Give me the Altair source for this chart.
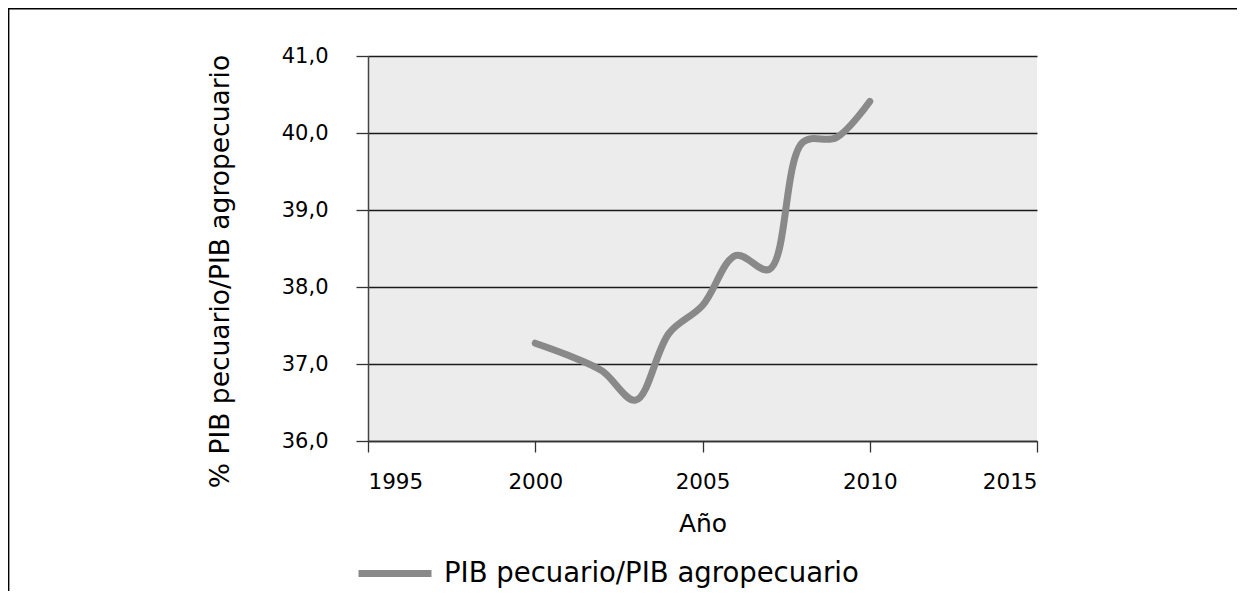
import altair as alt
import pandas as pd

years = [2000, 2001, 2002, 2003, 2004, 2005, 2006, 2007, 2008, 2009, 2010]
values = [37.27, 37.11, 36.91, 36.53, 37.40, 37.76, 38.41, 38.23, 39.88, 39.94, 40.41]
series_name = "PIB pecuario/PIB agropecuario"
x_ticks = [1995, 2000, 2005, 2010, 2015]
y_ticks = [36, 37, 38, 39, 40, 41]

df = pd.DataFrame({"Año": years, "valor": values, "serie": [series_name] * len(years)})

FONT = "DejaVu Sans"
W, H = 669, 385

line = alt.Chart(df).mark_line(
    interpolate="catmull-rom", strokeWidth=7, strokeCap="round", strokeJoin="round"
).encode(
    x=alt.X(
        "Año:Q",
        scale=alt.Scale(domain=[1995, 2015], nice=False, zero=False),
        axis=alt.Axis(
            values=x_ticks, format="d", title="Año", grid=False,
            tickSize=11, tickColor="#333333", tickWidth=1.3,
            domainColor="#333333", domainWidth=1.5,
            labelFontSize=21.5, labelPadding=19, labelColor="#000000",
            titleFontSize=25, titleFontWeight="normal", titleColor="#000000",
            titleX=W / 2, titleY=82, titleBaseline="middle", titleAlign="center",
        ),
    ),
    y=alt.Y(
        "valor:Q",
        scale=alt.Scale(domain=[36, 41], nice=False, zero=False),
        axis=alt.Axis(
            values=y_ticks, title="% PIB pecuario/PIB agropecuario",
            labelExpr="replace(format(datum.value, '.1f'), '.', ',')",
            grid=True, gridColor="#1a1a1a", gridWidth=1.3,
            tickSize=12, tickColor="#333333", tickWidth=1.3,
            domainColor="#444444", domainWidth=1.5,
            labelFontSize=21, labelPadding=28, labelColor="#000000",
            titleFontSize=26.5, titleFontWeight="normal", titleColor="#000000",
            titleX=-148, titleY=215, titleAngle=-90,
            titleBaseline="middle", titleAlign="center",
        ),
    ),
    color=alt.Color(
        "serie:N",
        scale=alt.Scale(range=["#898989"]),
        legend=alt.Legend(
            title=None, orient="none", legendX=-13, legendY=477.5, padding=0,
            symbolType="stroke", symbolSize=5329, symbolStrokeWidth=7,
            labelFontSize=27.5, labelFont=FONT, labelColor="#000000", labelOffset=9,
            labelLimit=700,
        ),
    ),
)

frame = pd.DataFrame({"k": [0]})
left_border = alt.Chart(frame).mark_rule(color="#000000", strokeWidth=1.8).encode(
    x=alt.value(-359.5), y=alt.value(-47.5), y2=alt.value(H + 160)
)
top_border = alt.Chart(frame).mark_rule(color="#000000", strokeWidth=1.8).encode(
    x=alt.value(-360), x2=alt.value(W + 220), y=alt.value(-47.5)
)

chart = alt.layer(line, left_border, top_border).properties(
    width=W, height=H,
    padding={"left": 360, "top": 48, "right": 200, "bottom": 150},
    autosize=alt.AutoSizeParams(type="none"),
).configure(font=FONT).configure_view(stroke=None, fill="#EBECEB")

chart.save("out.html", embed_options={"renderer": "svg", "actions": False})
